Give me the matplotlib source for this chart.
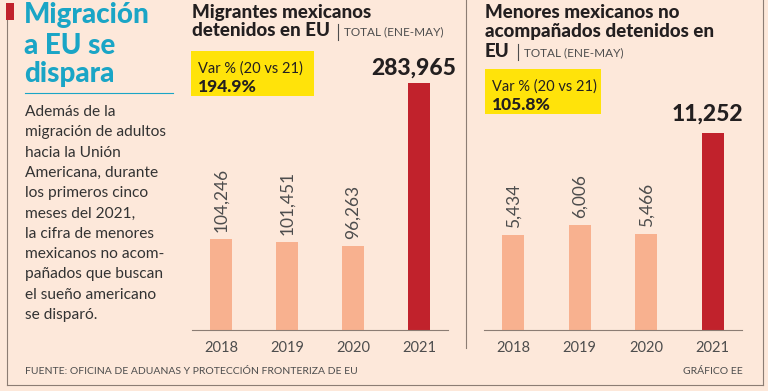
import matplotlib.pyplot as plt
from matplotlib.patches import Rectangle
from matplotlib.lines import Line2D

# Data
years = ['2018', '2019', '2020', '2021']
migrantes = [104246, 101451, 96263, 283965]
menores = [5434, 6006, 5466, 11252]
var_migrantes = '194.9%'
var_menores = '105.8%'

body_lines = [
    'Además de la',
    'migración de adultos',
    'hacia la Unión',
    'Americana, durante',
    'los primeros cinco',
    'meses del 2021,',
    'la cifra de menores',
    'mexicanos no acom-',
    'pañados que buscan',
    'el sueño americano',
    'se disparó.',
]

BG = '#fde8da'
CYAN = '#1aa5c6'
DARK = '#231f20'
GREY = '#4d4d4d'
LIGHT_BAR = '#f8b18f'
RED_BAR = '#c1222c'
YELLOW = '#ffe30a'
LINE = '#8c7d74'

plt.rcParams['font.family'] = ['Lato', 'DejaVu Sans']

W, H = 768, 391
fig = plt.figure(figsize=(W / 100, H / 100), dpi=100, facecolor=BG)
renderer = fig.canvas.get_renderer()


def fx(x):
    return x / W


def fy(y):
    return 1 - y / H


def ftext(x, y, s, **kw):
    return fig.text(fx(x), fy(y), s, **kw)


# frame lines
fig.add_artist(Line2D([fx(7), fx(7)], [fy(20), fy(385)], color=LINE, lw=0.8))
fig.add_artist(Line2D([fx(7), fx(763)], [fy(385), fy(385)], color=LINE, lw=0.8))
fig.add_artist(Line2D([fx(763), fx(763)], [fy(0), fy(385)], color=LINE, lw=0.8))
fig.add_artist(Line2D([fx(466), fx(466)], [fy(0), fy(348)], color=LINE, lw=0.8))
fig.add_artist(Rectangle((fx(6), fy(20)), fx(8), 17 / H, color=RED_BAR, lw=0))

# left title and body text
for txt, y in zip(['Migración', 'a EU se', 'dispara'], [23, 54, 82]):
    ftext(24, y, txt, color=CYAN, fontsize=20, fontweight='black', va='baseline')
fig.add_artist(Line2D([fx(25), fx(173)], [fy(93), fy(93)], color=CYAN, lw=0.8))

for i, line in enumerate(body_lines):
    ftext(25, 112 + 20.3 * i, line, color='#333333', fontsize=11.2, va='center')

ftext(25, 372, 'FUENTE: OFICINA DE ADUANAS Y PROTECCIÓN FRONTERIZA DE EU',
      color=GREY, fontsize=7.5, va='center')
ftext(743, 372, 'GRÁFICO EE', color=GREY, fontsize=7.5, va='center', ha='right')


def heading(x, lines, y0, step):
    t = None
    y = y0
    for i, line in enumerate(lines):
        y = y0 + step * i
        t = ftext(x, y, line, color=DARK, fontsize=13.5, fontweight='black',
                  va='baseline')
    # separator and subtitle right after the last heading line
    bb = t.get_window_extent(renderer=renderer)
    sep_x = bb.x1 + 8
    fig.add_artist(Line2D([fx(sep_x), fx(sep_x)], [fy(y + 3), fy(y - 13)],
                          color=GREY, lw=0.8))
    ftext(sep_x + 6, y - 1, 'TOTAL (ENE-MAY)', color=GREY, fontsize=8.5,
          va='baseline')


def var_box(x0, y0, x1, y1, value):
    fig.add_artist(Rectangle((fx(x0), fy(y1)), fx(x1 - x0), (y1 - y0) / H,
                             color=YELLOW, lw=0))
    ftext(x0 + 7, y0 + 22, 'Var % (20 vs 21)', color=DARK, fontsize=10.5, va='baseline')
    ftext(x0 + 7, y0 + 41, value, color=DARK, fontsize=12.5, fontweight='black',
          va='baseline')


def bar_chart(x0, x1, values, ymax, big_offset):
    ax = fig.add_axes([fx(x0), fy(330), fx(x1 - x0), 270 / H])
    ax.set_facecolor('none')
    xs = range(len(years))
    colors = [LIGHT_BAR] * 3 + [RED_BAR]
    ax.bar(xs, values, width=0.33, color=colors)
    ax.set_xlim(-0.44, 3.44)
    ax.set_ylim(0, ymax)
    for s in ['top', 'left', 'right']:
        ax.spines[s].set_visible(False)
    ax.spines['bottom'].set_color(LINE)
    ax.spines['bottom'].set_linewidth(0.8)
    ax.set_yticks([])
    ax.set_xticks(list(xs))
    ax.set_xticklabels(years)
    ax.tick_params(axis='x', length=0, pad=8, labelsize=10.5, labelcolor=GREY)
    for i, v in enumerate(values[:-1]):
        ax.annotate(f'{v:,}', (i, v), xytext=(0, 5), textcoords='offset points',
                    rotation=90, ha='center', va='bottom', fontsize=12.5,
                    color=GREY)
    ax.annotate(f'{values[-1]:,}', (3, values[-1]), xytext=(-4, big_offset),
                textcoords='offset points', ha='center', va='bottom',
                fontsize=16.5, fontweight='black', color=DARK)
    return ax


# left chart
heading(192, ['Migrantes mexicanos', 'detenidos en EU'], 18, 18.5)
var_box(191, 51, 314, 96, var_migrantes)
bar_chart(192, 448, migrantes, 310500, 3)

# right chart
heading(485, ['Menores mexicanos no', 'acompañados detenidos en', 'EU'], 18, 19.5)
var_box(485, 69, 601, 114, var_menores)
bar_chart(484, 742, menores, 15400, 6)

fig.savefig('out.png', dpi=100, facecolor=BG)
